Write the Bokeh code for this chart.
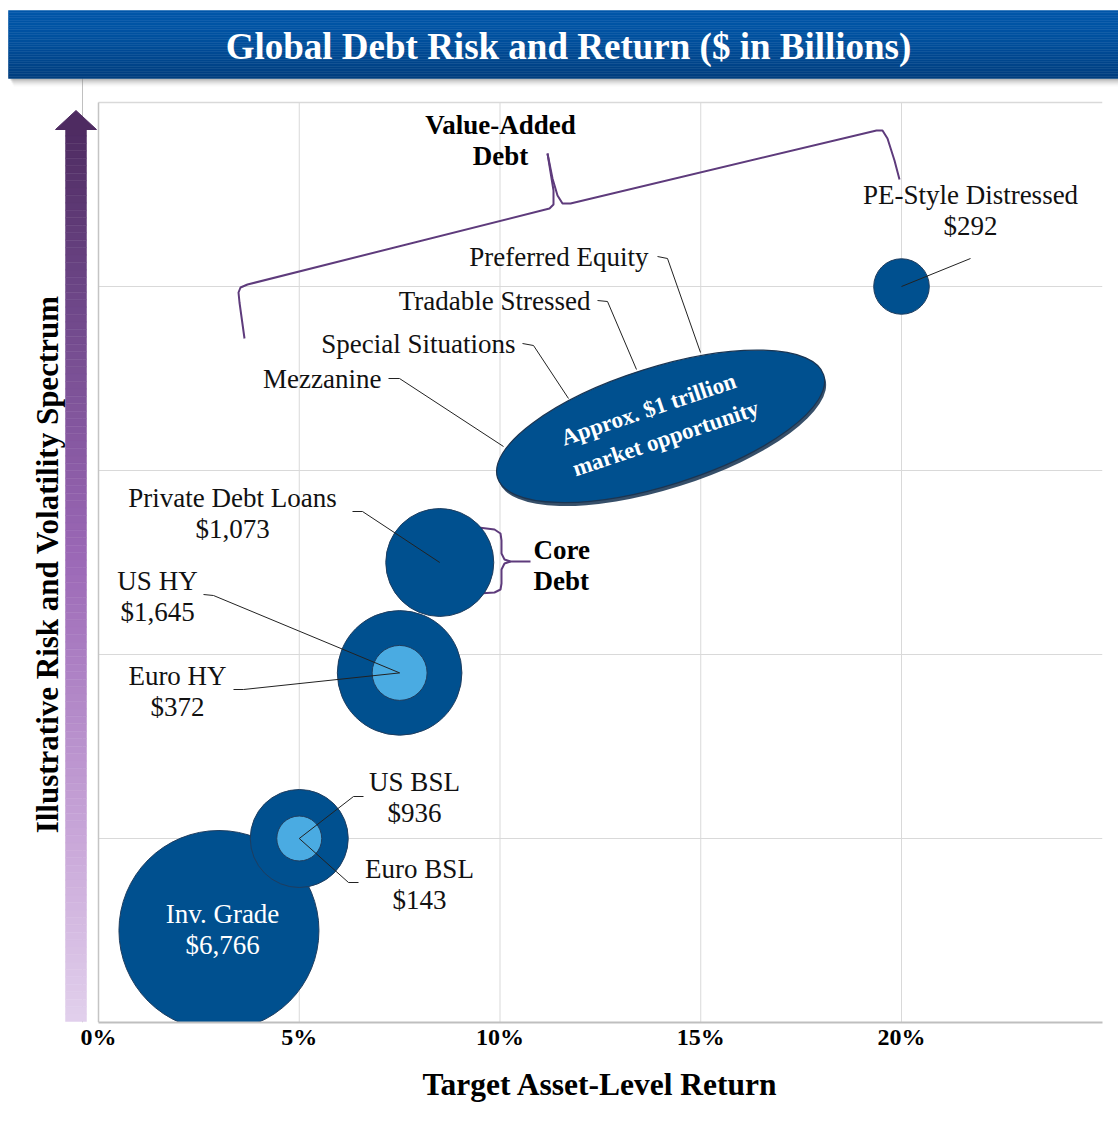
import math
import numpy as np
from bokeh.plotting import figure
from bokeh.models import Range1d, FixedTicker, PrintfTickFormatter, ColumnDataSource, Title
from bokeh.core.properties import value
from bokeh.embed import file_html
from bokeh.resources import INLINE

# ---------------- data ----------------
categories = ["Inv. Grade", "US BSL", "Euro BSL", "US HY", "Euro HY",
              "Private Debt Loans", "PE-Style Distressed"]
size_labels = ["$6,766", "$936", "$143", "$1,645", "$372", "$1,073", "$292"]
market_size_bn = [6766, 936, 143, 1645, 372, 1073, 292]
target_return = [3.0, 5.0, 5.0, 7.5, 7.5, 8.5, 20.0]      # % (x)
risk_level = [0.5, 1.0, 1.0, 1.9, 1.9, 2.5, 4.0]          # illustrative (y)
bubble_size = [10000, 2400, 506, 3880, 756, 2916, 773]    # relative bubble area
value_added = ["Preferred Equity", "Tradable Stressed", "Special Situations", "Mezzanine"]
opportunity_text = ["Approx. $1 trillion", "market opportunity"]
opportunity_center = [14.0, 3.24]
x_ticks = [0, 5, 10, 15, 20]
x_grid = [5, 10, 15, 20]
y_grid = [1, 2, 3, 4]
x_max, y_max = 25, 5

# ---------------- geometry helpers (pixel -> data, for decorations) ----------------
W, H = 1118, 1126
X0, Y0 = 98.0, 1022.0
PXX, PYY = 40.15, 184.0


def X(px):
    return (np.asarray(px, dtype=float) - X0) / PXX


def Y(py):
    return (Y0 - np.asarray(py, dtype=float)) / PYY


SERIF = value("Liberation Serif")
DARK = "#00508f"
LIGHT = "#4aabe2"
PURPLE = "#5e3b7c"
LABEL_SIZE = value("27px")

p = figure(width=W, height=H, output_backend="svg", toolbar_location=None,
           x_range=Range1d(-X0 / PXX, (W - X0) / PXX),
           y_range=Range1d(0, Y0 / PYY),
           y_axis_location=None, x_axis_location="below",
           min_border=0, min_border_left=0, min_border_right=0,
           min_border_top=0, min_border_bottom=int(H - Y0))
p.outline_line_color = None
p.background_fill_color = "white"
p.xgrid.visible = False
p.ygrid.visible = False

# ---------------- x axis ----------------
ax = p.xaxis[0]
ax.ticker = FixedTicker(ticks=x_ticks)
ax.formatter = PrintfTickFormatter(format="%d%%")
ax.bounds = (0, x_max)
ax.axis_line_color = "#bfbfbf"
ax.axis_line_width = 2
ax.major_tick_line_color = None
ax.minor_tick_line_color = None
ax.major_label_standoff = -5
ax.major_label_text_font = "Liberation Serif"
ax.major_label_text_font_style = "bold"
ax.major_label_text_font_size = "24px"
ax.major_label_text_color = "black"

xt = Title(text="Target  Asset-Level Return", align="left", offset=422,
           text_font="Liberation Serif", text_font_style="bold",
           text_font_size="31.5px", text_color="black", standoff=24)
p.add_layout(xt, "below")

# ---------------- grid ----------------
p.segment(x0=[0] * len(y_grid), x1=[x_max] * len(y_grid), y0=y_grid, y1=y_grid,
          line_color="#d9d9d9", line_width=1)
p.segment(x0=x_grid, x1=x_grid, y0=[0] * len(x_grid), y1=[y_max] * len(x_grid),
          line_color="#d9d9d9", line_width=1)
p.segment(x0=[0], x1=[x_max], y0=[y_max], y1=[y_max], line_color="#d9d9d9", line_width=1.5)
p.segment(x0=[0], x1=[0], y0=[0], y1=[y_max], line_color="#c4c4c4", line_width=1.5)

# stray vertical rule behind the arrow
p.segment(x0=[X(82)], x1=[X(82)], y0=[Y(78)], y1=[Y(1022)], line_color="#c0c0c0", line_width=1)

# ---------------- title banner ----------------
for k, a in enumerate([0.30, 0.20, 0.12, 0.06]):
    p.quad(left=[X(10 + k)], right=[X(1118)], top=[Y(78)], bottom=[Y(80 + 2 * k)],
           fill_color="#808080", fill_alpha=a, line_color=None)
n = 40
edges = np.linspace(10, 78, n + 1)
top_c = np.array([0, 86, 168])
bot_c = np.array([0, 62, 126])
cols = []
for i in range(n):
    f = (i / (n - 1)) ** 1.6
    c = top_c + (bot_c - top_c) * f
    cols.append("#%02x%02x%02x" % tuple(int(round(v)) for v in c))
p.quad(left=[X(8)] * n, right=[X(1118)] * n, top=list(Y(edges[:-1])), bottom=list(Y(edges[1:])),
       fill_color=cols, line_color=cols, line_width=0.5)
p.text(x=[X(568)], y=[Y(46)], text=["Global Debt Risk and Return ($ in Billions)"],
       text_font=SERIF, text_font_style="bold", text_font_size=value("37px"),
       text_color="white", text_align="center", text_baseline="middle")

# ---------------- gradient arrow ----------------
stops_f = [0.0, 0.17, 0.48, 0.79, 1.0]
stops_c = np.array([[78, 43, 97], [106, 68, 132], [155, 104, 182], [200, 166, 216], [226, 208, 236]])
na = 120
a_top, a_bot = 128.0, 1021.0
aedges = np.linspace(a_top, a_bot, na + 1)
acols = []
for i in range(na):
    f = (i + 0.5) / na
    c = [np.interp(f, stops_f, stops_c[:, j]) for j in range(3)]
    acols.append("#%02x%02x%02x" % tuple(int(round(v)) for v in c))
p.quad(left=[X(65)] * na, right=[X(86)] * na, top=list(Y(aedges[:-1])), bottom=list(Y(aedges[1:])),
       fill_color=acols, line_color=acols, line_width=0.5)
p.patch(x=list(X([55, 96, 75.5])), y=list(Y([129, 129, 110])), fill_color="#4e2b61", line_color="#4e2b61")
p.text(x=[X(47)], y=[Y(560)], text=["Illustrative  Risk and Volatility Spectrum"], angle=math.pi / 2,
       text_font=SERIF, text_font_style="bold", text_font_size=value("31px"),
       text_color="black", text_align="center", text_baseline="middle")

# ---------------- braces ----------------
va_left = [(244, 338), (239, 302), (238, 292), (240, 287), (247, 284), (549, 208), (553, 204), (553, 190), (547, 153)]
va_right = [(547, 153), (552, 178), (557, 195), (562, 203), (570, 203), (876, 130), (882, 130), (887, 138), (894, 160), (899, 179)]
core_top = [(478, 527), (494, 529), (500, 533), (501, 540), (501, 553), (504, 559), (510, 561), (530, 561)]
core_bot = [(510, 561), (504, 563), (501, 569), (501, 583), (500, 589), (494, 592), (478, 593)]
paths = [va_left, va_right, core_top, core_bot]
p.multi_line(xs=[list(X([q[0] for q in pth])) for pth in paths],
             ys=[list(Y([q[1] for q in pth])) for pth in paths],
             line_color=PURPLE, line_width=2)

p.text(x=[X(500), X(500)], y=[Y(124), Y(155)], text=["Value-Added", "Debt"],
       text_font=SERIF, text_font_style="bold", text_font_size=LABEL_SIZE,
       text_color="black", text_align="center", text_baseline="middle")
p.text(x=[X(533), X(533)], y=[Y(549), Y(580)], text=["Core", "Debt"],
       text_font=SERIF, text_font_style="bold", text_font_size=LABEL_SIZE,
       text_color="black", text_align="left", text_baseline="middle")

# ---------------- opportunity ellipse ----------------
ang = math.radians(17.5)
p.ellipse(x=[opportunity_center[0] + 1.5 / PXX], y=[opportunity_center[1] - 3.5 / PYY],
          width=342, height=118, width_units="screen", height_units="screen", angle=ang,
          fill_color="#13304f", fill_alpha=0.85, line_color=None)
p.ellipse(x=[opportunity_center[0]], y=[opportunity_center[1]],
          width=342, height=118, width_units="screen", height_units="screen", angle=ang,
          fill_color=DARK, line_color="#1b3552", line_width=1.2)
tang = math.radians(18.6)
p.text(x=[opportunity_center[0] - 12 / PXX, opportunity_center[0] + 5 / PXX],
       y=[opportunity_center[1] + 17 / PYY, opportunity_center[1] - 12 / PYY],
       text=opportunity_text, angle=tang,
       text_font=SERIF, text_font_style="bold", text_font_size=value("23px"),
       text_color="white", text_align="center", text_baseline="middle")

# ---------------- bubbles ----------------
inner = {"Euro BSL", "Euro HY"}
max_size = max(bubble_size)
radius = [100.0 * math.sqrt(s / max_size) for s in bubble_size]
colors = [LIGHT if c in inner else DARK for c in categories]
src = ColumnDataSource(dict(x=target_return, y=risk_level, r=radius, c=colors,
                            name=categories, size=market_size_bn))
p.circle(x="x", y="y", radius="r", radius_units="screen", source=src,
         fill_color="c", line_color="#1e3d5f", line_width=1)

# ---------------- leader lines ----------------
center = {c: (target_return[i], risk_level[i]) for i, c in enumerate(categories)}
leader_px = {
    "US BSL": [(363, 796), (353, 796)],
    "Euro BSL": [(358, 882), (348, 882)],
    "US HY": [(203, 594), (213, 595)],
    "Euro HY": [(233, 689), (243, 689)],
    "Private Debt Loans": [(352, 511), (362, 511)],
    "PE-Style Distressed": [(970, 258)],
}
lxs, lys = [], []
for c, pts in leader_px.items():
    lxs.append(list(X([q[0] for q in pts])) + [center[c][0]])
    lys.append(list(Y([q[1] for q in pts])) + [center[c][1]])
va_leaders = {
    "Preferred Equity": [(657, 256), (667, 258), (700, 352)],
    "Tradable Stressed": [(597, 300), (607, 301), (636, 369)],
    "Special Situations": [(522, 343), (533, 345), (568, 398)],
    "Mezzanine": [(388, 378), (399, 378), (503, 446)],
}
for c, pts in va_leaders.items():
    lxs.append(list(X([q[0] for q in pts])))
    lys.append(list(Y([q[1] for q in pts])))
p.multi_line(xs=lxs, ys=lys, line_color="#222222", line_width=1)

# ---------------- labels ----------------
label_px = {
    "Inv. Grade": (222, 913),
    "US BSL": (414, 781),
    "Euro BSL": (419, 868),
    "US HY": (157, 580),
    "Euro HY": (177, 675),
    "Private Debt Loans": (232, 497),
    "PE-Style Distressed": (970, 194),
}
tx, ty, tt, tcol = [], [], [], []
for i, c in enumerate(categories):
    px, py = label_px[c]
    col = "white" if c == "Inv. Grade" else "#111111"
    tx += [float(X(px)), float(X(px))]
    ty += [float(Y(py)), float(Y(py + 31))]
    tt += [c, size_labels[i]]
    tcol += [col, col]
p.text(x=tx, y=ty, text=tt, text_color=tcol,
       text_font=SERIF, text_font_size=LABEL_SIZE,
       text_align="center", text_baseline="middle")

va_label_px = {
    "Preferred Equity": (648, 256),
    "Tradable Stressed": (590, 300),
    "Special Situations": (515, 343),
    "Mezzanine": (381, 378),
}
p.text(x=[float(X(va_label_px[c][0])) for c in value_added],
       y=[float(Y(va_label_px[c][1])) for c in value_added],
       text=value_added, text_color="#111111",
       text_font=SERIF, text_font_size=LABEL_SIZE,
       text_align="right", text_baseline="middle")

open("out.html", "w").write(file_html(p, INLINE))
